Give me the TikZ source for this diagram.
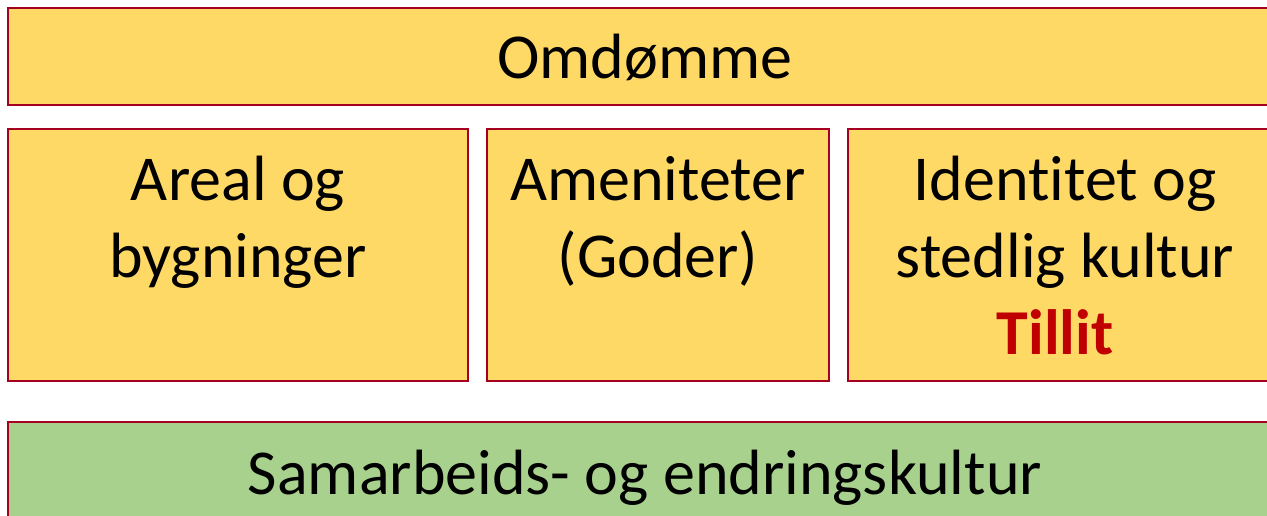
\documentclass[tikz,border=0pt]{standalone}
\usepackage{fontspec}
\setmainfont{Carlito}[Ligatures={NoCommon}]
\usepackage{tikz}

\definecolor{boxgold}{HTML}{FFD966}
\definecolor{boxgreen}{HTML}{A9D18E}
\definecolor{edgered}{HTML}{A50021}
\definecolor{trustred}{HTML}{C00000}

\begin{document}
\begin{tikzpicture}[x=1pt,y=-1pt,
    panel/.style={draw=edgered, line width=2.5pt},
    word/.style={font=\fontsize{64}{77}\selectfont, align=center, anchor=base, inner sep=0pt}]
  \useasboundingbox (0,0) rectangle (1267,516);
  \clip (0,0) rectangle (1267,516);

  % top bar
  \filldraw[panel, fill=boxgold] (8,8) rectangle (1282,105);
  \node[word] (omdomme) at (645,79) {Omdømme};

  % middle row (anchor=base sits on the last line)
  \filldraw[panel, fill=boxgold] (8,129) rectangle (468,381);
  \filldraw[panel, fill=boxgold] (487,129) rectangle (829,381);
  \filldraw[panel, fill=boxgold] (848,129) rectangle (1282,381);
  \node[word] (areal) at (238,277) {Areal og\\bygninger};
  \node[word] (goder) at (658,277) {Ameniteter\\(Goder)};
  \node[word] (identitet) at (1065,354) {Identitet og\\stedlig kultur\\{\color{trustred}\bfseries Tillit}\hspace*{20pt}};

  % bottom bar
  \filldraw[panel, fill=boxgreen] (8,422) rectangle (1282,530);
  \node[word] (samarbeid) at (645,494) {Samarbeids- og endringskultur};
\end{tikzpicture}
\end{document}
